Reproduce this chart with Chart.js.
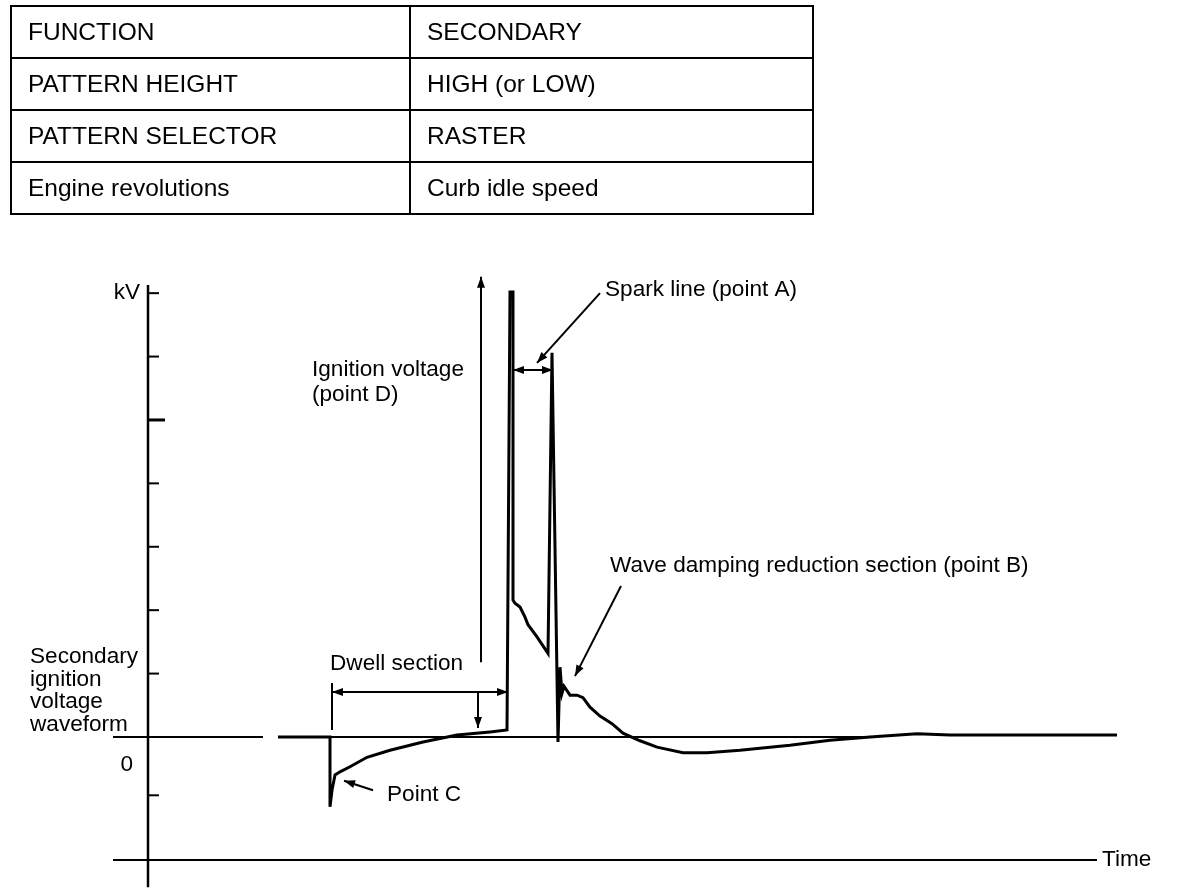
<!DOCTYPE html>
<html>
<head>
<meta charset="utf-8">
<script src="https://cdn.jsdelivr.net/npm/chart.js@4.4.1/dist/chart.umd.min.js"></script>
<style>
    body { margin: 0; background: #fff; font-family: "Liberation Sans", Arial, Helvetica, sans-serif; }
    #wrap { position: relative; width: 1184px; height: 892px; }
    #chart { position: absolute; left: 0; top: 0; }
    #settings {
        position: absolute; left: 10px; top: 5px; width: 804px;
        border-collapse: collapse; font-size: 24.5px; color: #000;
    }
    #settings td { border: 2px solid #000; height: 50px; padding: 0 0 0 16px; }
    #settings td:first-child { width: 381px; }
</style>
</head>
<body>
<div id="wrap">
    <canvas id="chart" width="1184" height="892"></canvas>
    <table id="settings"></table>
</div>
<script>
// 设定表
const settingNames = ['FUNCTION', 'PATTERN HEIGHT', 'PATTERN SELECTOR', 'Engine revolutions'];
const settingValues = ['SECONDARY', 'HIGH (or LOW)', 'RASTER', 'Curb idle speed'];

// 波形 (时间, kV)
const waveTime = [13.0, 18.2, 18.2, 18.4, 18.7, 19.2, 20.2, 21.9, 24.2, 27.5, 30.9, 34.2, 35.9,
    36.2, 36.5, 36.5, 36.7, 37.2, 37.7, 38.0, 38.9, 40.0, 40.4, 41.0, 41.2, 41.4, 41.6, 42.2,
    42.9, 43.5, 44.2, 45.2, 46.4, 47.5, 49.2, 50.9, 53.5, 55.9, 59.2, 64.2, 68.2, 72.2, 76.9,
    80.2, 96.9];
const waveKv = [0, 0, -1.10, -0.84, -0.60, -0.55, -0.47, -0.32, -0.21, -0.08, 0.03, 0.08, 0.11,
    7.02, 7.02, 2.16, 2.11, 2.05, 1.89, 1.77, 1.58, 1.32, 6.06, -0.08, 1.10, 0.69, 0.80, 0.66,
    0.66, 0.62, 0.47, 0.33, 0.21, 0.06, -0.06, -0.16, -0.25, -0.25, -0.21, -0.13, -0.05, 0, 0.05,
    0.03, 0.03];

// 零线
const zeroTime = [-3.5, 11.5, 12.2, 13.0, 72.2];
const zeroKv = [0, 0, null, 0, 0];

// 纵轴刻度
const yTicks = [-0.92, 1, 2, 3, 4, 5, 6, 7];

// 表格
const table = document.getElementById('settings');
settingNames.forEach((name, i) => {
    const tr = document.createElement('tr');
    tr.innerHTML = `<td>${name}</td><td>${settingValues[i]}</td>`;
    table.appendChild(tr);
});

const FONT = '22.6px "Liberation Sans", Arial, Helvetica, sans-serif';

function arrowHead(ctx, x1, y1, x2, y2) {
    const a = Math.atan2(y2 - y1, x2 - x1);
    const len = 11, w = 4;
    ctx.beginPath();
    ctx.moveTo(x2, y2);
    ctx.lineTo(x2 - len * Math.cos(a) + w * Math.sin(a), y2 - len * Math.sin(a) - w * Math.cos(a));
    ctx.lineTo(x2 - len * Math.cos(a) - w * Math.sin(a), y2 - len * Math.sin(a) + w * Math.cos(a));
    ctx.closePath();
    ctx.fill();
}

// 坐标轴和标注
const annotationPlugin = {
    id: 'annotations',
    afterDatasetsDraw(chart) {
        const ctx = chart.ctx;
        const xs = chart.scales.x, ys = chart.scales.y;
        const X = v => xs.getPixelForValue(v);
        const Y = v => ys.getPixelForValue(v);
        ctx.save();
        ctx.strokeStyle = '#000';
        ctx.fillStyle = '#000';
        ctx.lineCap = 'butt';

        function line(t1, v1, t2, v2, w) {
            ctx.lineWidth = w || 2;
            ctx.beginPath();
            ctx.moveTo(X(t1), Y(v1));
            ctx.lineTo(X(t2), Y(v2));
            ctx.stroke();
        }
        function arrow(t1, v1, t2, v2, both) {
            line(t1, v1, t2, v2, 2);
            arrowHead(ctx, X(t1), Y(v1), X(t2), Y(v2));
            if (both) arrowHead(ctx, X(t2), Y(v2), X(t1), Y(v1));
        }

        // 纵轴
        line(0, 7.13, 0, -2.37, 2.5);
        yTicks.forEach(v => {
            const len = v === 5 ? 17 : 11;
            ctx.lineWidth = v === 5 ? 3 : 2;
            ctx.beginPath();
            ctx.moveTo(X(0), Y(v));
            ctx.lineTo(X(0) + len, Y(v));
            ctx.stroke();
        });
        // 时间轴
        line(-3.5, -1.94, 94.9, -1.94, 2);

        // 点火电压
        arrow(33.3, 1.18, 33.3, 7.26, false);
        arrow(33.0, 0.71, 33.0, 0.14, false);
        // 闭合段
        line(18.4, 0.85, 18.4, 0.11, 2);
        arrow(18.4, 0.71, 36.0, 0.71, true);
        // 火花线
        arrow(36.5, 5.79, 40.5, 5.79, true);
        arrow(45.2, 7.0, 38.9, 5.90, false);
        // 波形衰减
        arrow(47.3, 2.38, 42.7, 0.96, false);
        // C点
        arrow(22.5, -0.84, 19.6, -0.69, false);

        // 文字
        ctx.font = FONT;
        ctx.textBaseline = 'middle';
        ctx.textAlign = 'right';
        ctx.fillText('kV', X(-0.8), Y(7.0));
        ctx.fillText('0', X(-1.5), Y(-0.44));
        ctx.textAlign = 'left';
        [['Secondary', 1.27], ['ignition', 0.91], ['voltage', 0.55], ['waveform', 0.19]]
            .forEach(([s, v]) => ctx.fillText(s, X(-11.8), Y(v)));
        ctx.fillText('Ignition voltage', X(16.4), Y(5.79));
        ctx.fillText('(point D)', X(16.4), Y(5.39));
        ctx.fillText('Spark line (point A)', X(45.7), Y(7.05));
        ctx.fillText('Wave damping reduction section (point B)', X(46.2), Y(2.70));
        ctx.fillText('Dwell section', X(18.2), Y(1.15));
        ctx.fillText('Point C', X(23.9), Y(-0.91));
        ctx.fillText('Time', X(95.4), Y(-1.94));
        ctx.restore();
    }
};

new Chart(document.getElementById('chart'), {
    type: 'line',
    data: {
        datasets: [
            {
                label: 'zero',
                data: zeroTime.map((t, i) => ({ x: t, y: zeroKv[i] })),
                borderColor: '#000',
                borderWidth: 2,
                pointRadius: 0,
                spanGaps: false,
                clip: false
            },
            {
                label: 'waveform',
                data: waveTime.map((t, i) => ({ x: t, y: waveKv[i] })),
                borderColor: '#000',
                borderWidth: 3,
                pointRadius: 0,
                tension: 0,
                clip: false
            }
        ]
    },
    options: {
        responsive: false,
        animation: false,
        devicePixelRatio: 1,
        layout: { padding: { left: 100, right: 24, top: 267.8, bottom: 9.2 } },
        scales: {
            x: { type: 'linear', display: false, min: -4.8, max: 101.2 },
            y: { type: 'linear', display: false, min: -2.3, max: 7.4 }
        },
        plugins: { legend: { display: false }, tooltip: { enabled: false } }
    },
    plugins: [annotationPlugin]
});
</script>
</body>
</html>
